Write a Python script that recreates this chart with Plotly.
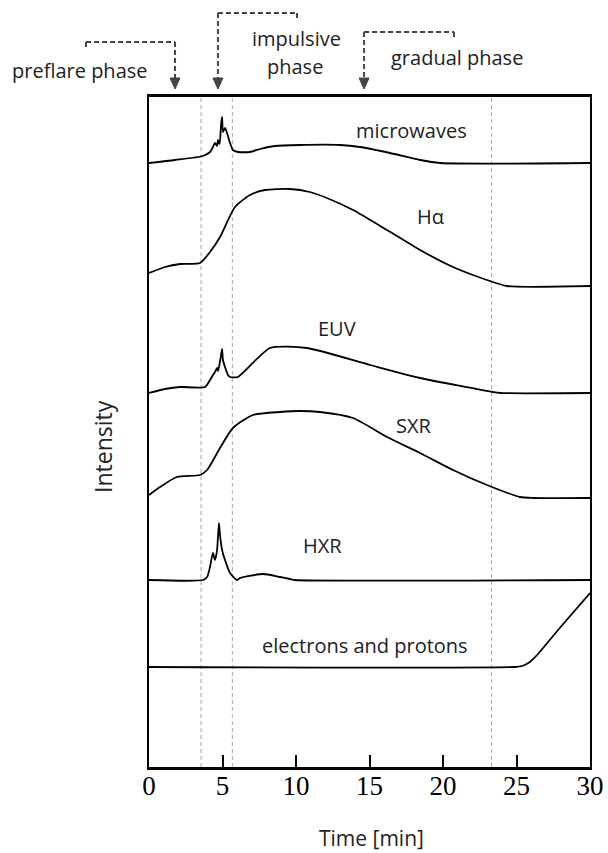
import plotly.graph_objects as go

# ---- light curves of a solar flare (schematic), time in minutes ----
mw_t = [0, 1.77, 3.67, 4.15, 4.35, 4.49, 4.63, 4.69, 4.80, 4.90, 4.97, 5.03, 5.17, 5.31,
        5.51, 5.71, 6.05, 6.87, 7.55, 8.57, 10.27, 12.99, 14.35, 16.39, 18.44, 19.8, 30]
mw_i = [0, 3, 7, 11, 16, 20, 17, 23, 19, 38, 46, 31, 35, 30,
        20, 13, 11, 11, 14, 17, 18, 18, 16, 10, 3, 0, 0]

ha_t = [0, 1.09, 2.11, 3.47, 4.15, 4.83, 5.85, 6.87, 7.89, 9.59, 10.95, 12.1, 13.88,
        16.19, 18.44, 20.68, 22.99, 24.35, 30]
ha_i = [13, 19, 22, 23, 34, 49, 79, 91, 96, 97, 94, 88, 76,
        56, 36, 19, 6, 0, 0]

euv_t = [0, 1.09, 2.11, 3.81, 4.15, 4.35, 4.49, 4.63, 4.69, 4.83, 4.97, 5.03, 5.17, 5.37,
         5.51, 6.05, 8.23, 10.75, 15.03, 18.44, 23.4, 23.88, 30]
euv_i = [0, 4, 6, 6, 13, 18, 21, 25, 22, 31, 44, 33, 26, 18,
         16, 16, 45, 45, 28, 15, 1, 0, 0]

sxr_t = [0, 0.75, 1.9, 3.47, 3.95, 4.83, 5.71, 7.07, 8.91, 10.27, 11.63, 13.88, 16.19,
         18.44, 20.68, 22.99, 25.24, 26.12, 30]
sxr_i = [3, 11, 21, 23, 28, 50, 70, 83, 86, 87, 86, 80, 61,
         45, 28, 13, 1, 0, 0]

hxr_t = [0, 3.67, 3.95, 4.15, 4.35, 4.49, 4.63, 4.76, 4.83, 4.97, 5.17, 5.51, 5.99,
         6.19, 7.76, 8.91, 9.59, 9.93, 30]
hxr_i = [0, 0, 3, 13, 27, 20, 30, 57, 45, 30, 20, 7, 0,
         2, 6, 3, 1, 0, 0]

ep_t = [0, 24.9, 25.4, 25.9, 26.4, 28.0, 30]
ep_i = [0, 0, 1, 5, 12, 40, 74]

channels = ["microwaves", "Hα", "EUV", "SXR", "HXR", "electrons and protons"]
times = [mw_t, ha_t, euv_t, sxr_t, hxr_t, ep_t]
intensities = [mw_i, ha_i, euv_i, sxr_i, hxr_i, ep_i]

# vertical stacking offset of each curve (arbitrary intensity units)
offsets = [604, 481, 374, 269, 187, 100]

# phase boundaries (dashed guide lines) and phase arrows, in minutes
boundaries = [3.54, 5.67, 23.3]
phase_arrows = [1.77, 4.69, 14.63]

x_ticks = [0, 5, 10, 15, 20, 25, 30]

# figure geometry
W, H = 608, 853
ML, MR, MT, MB = 149, 18, 97, 86
PW = W - ML - MR
PH = H - MT - MB


def py(pix):
    """page row (px) -> paper y"""
    return (H - MB - pix) / PH


def px(pix):
    """page column (px) -> paper x"""
    return (pix - ML) / PW


def t2p(t):
    """minutes -> paper x"""
    return t / 30.0


fig = go.Figure()

for name, t, inten, off in zip(channels, times, intensities, offsets):
    fig.add_trace(go.Scatter(
        x=t, y=[v + off for v in inten], mode="lines", name=name,
        line=dict(color="black", width=1.8, shape="spline", smoothing=0.6),
        showlegend=False, hoverinfo="skip"))

for b in boundaries:
    fig.add_shape(type="line", x0=b, x1=b, y0=0, y1=1, xref="x", yref="paper",
                  line=dict(color="#a8a8a8", width=1, dash="4px,3px"), layer="below")

# curve labels
label_pos = [(17.83, 637), (19.12, 551), (12.79, 439), (18.03, 342), (11.77, 222), (14.69, 122)]
label_font = dict(family="Open Sans", size=20, color="#222")
for name, (lx, ly) in zip(channels, label_pos):
    fig.add_annotation(x=lx, y=ly, text=name, showarrow=False, font=label_font,
                       xanchor="center", yanchor="middle")

# phase brackets above the frame
bracket = dict(color="#444", width=2, dash="5px,3px")


def seg(x0, y0, x1, y1):
    fig.add_shape(type="line", x0=x0, x1=x1, y0=y0, y1=y1, xref="paper", yref="paper", line=bracket)


pre_x, imp_x, gra_x = [t2p(t) for t in phase_arrows]
seg(px(86), py(42), pre_x, py(42))
seg(px(86), py(42), px(86), py(48))
seg(imp_x, py(13), px(297), py(13))
seg(px(297), py(13), px(297), py(19))
seg(gra_x, py(32), px(454), py(32))
seg(px(454), py(32), px(454), py(38))

tops = [42, 13, 32]
hw = 5 / PW
for ax_p, top in zip([pre_x, imp_x, gra_x], tops):
    seg(ax_p, py(top), ax_p, py(78))
    fig.add_shape(type="path", xref="paper", yref="paper",
                  path=f"M {ax_p - hw} {py(78)} L {ax_p + hw} {py(78)} L {ax_p} {py(89)} Z",
                  fillcolor="#444", line=dict(color="#444", width=1))

top_font = dict(family="Open Sans", size=20, color="#222")
for text, cx, cy in [("preflare phase", 80, 70), ("impulsive", 296, 38),
                     ("phase", 295, 66), ("gradual phase", 457, 58)]:
    fig.add_annotation(x=px(cx), y=py(cy), text=text, showarrow=False, font=top_font,
                       xref="paper", yref="paper", xanchor="center", yanchor="middle")

# axis titles
fig.add_annotation(x=px(371), y=py(838), text="Time [min]", showarrow=False,
                   font=dict(family="Open Sans", size=21, color="#222"),
                   xref="paper", yref="paper", xanchor="center", yanchor="middle")
fig.add_annotation(x=px(103), y=py(447), text="Intensity", showarrow=False, textangle=-90,
                   font=dict(family="Open Sans", size=23, color="#222"),
                   xref="paper", yref="paper", xanchor="center", yanchor="middle")

fig.update_layout(
    width=W, height=H,
    margin=dict(l=ML, r=MR, t=MT, b=MB, autoexpand=False),
    showlegend=False,
    paper_bgcolor="white", plot_bgcolor="white",
    xaxis=dict(range=[0, 30], tickvals=x_ticks, ticks="inside", ticklen=12, tickwidth=1.5,
               tickcolor="black", showgrid=False, zeroline=False, showline=True, mirror=True,
               linecolor="black", linewidth=2.5, automargin=False, ticklabelstandoff=-7,
               tickfont=dict(family="Liberation Serif", size=27, color="black")),
    yaxis=dict(range=[0, 670], showticklabels=False, ticks="", showgrid=False, zeroline=False,
               showline=True, mirror=True, linecolor="black", linewidth=2, automargin=False),
)

fig.write_html("out.html")
